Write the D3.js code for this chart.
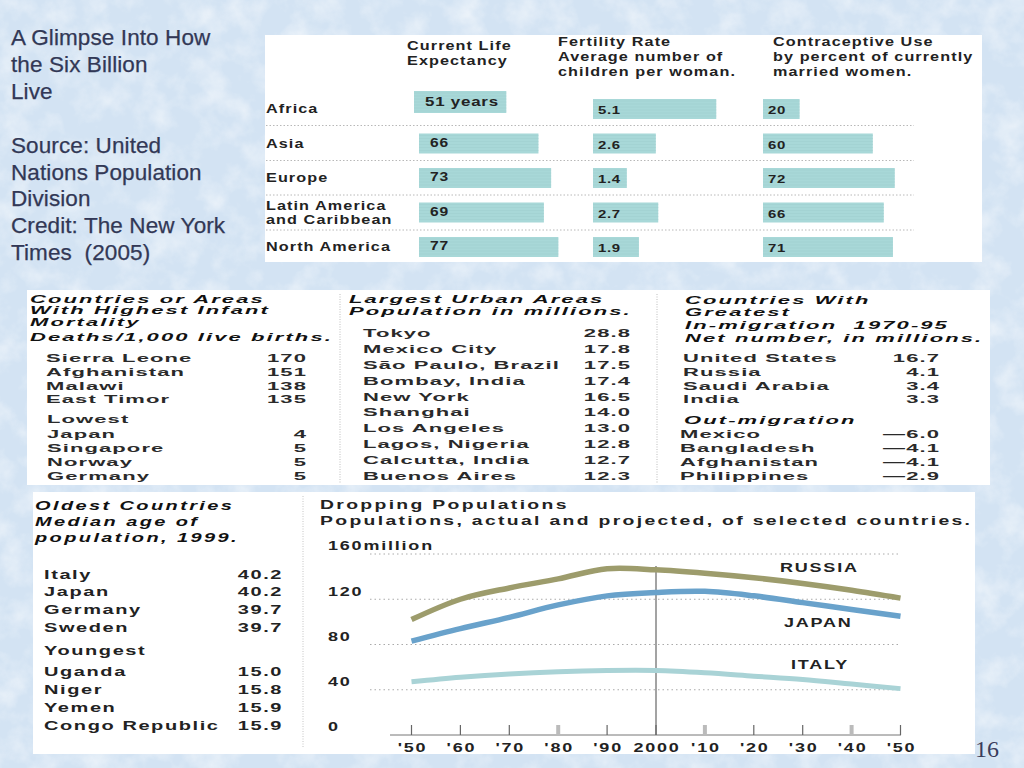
<!DOCTYPE html>
<html><head><meta charset="utf-8">
<script src="https://cdn.jsdelivr.net/npm/d3@7"></script>
<style>
html,body{margin:0;padding:0;background:#d6e6f5;}
svg{display:block;}
text{font-family:"Liberation Sans",Arial,sans-serif;}
</style></head>
<body>
<svg id="slide" width="1024" height="768"></svg>
<script>
// ---------------- DATA ----------------
const slideTitleLines = ["A Glimpse Into How","the Six Billion","Live","","Source: United","Nations Population","Division","Credit: The New York","Times  (2005)"];
const pageNumber = "16";

const regionLabels = [["Africa"],["Asia"],["Europe"],["Latin America","and Caribbean"],["North America"]];
const lifeHeader = ["Current Life","Expectancy"];
const fertilityHeader = ["Fertility Rate","Average number of","children per woman."];
const contraceptiveHeader = ["Contraceptive Use","by percent of currently","married women."];
const lifeExpectancy = [51,66,73,69,77];
const fertilityRate = [5.1,2.6,1.4,2.7,1.9];
const contraceptiveUse = [20,60,72,66,71];

const mortalityTitle = ["Countries or Areas","With Highest Infant","Mortality","Deaths/1,000 live births."];
const mortalityHighest = ["Sierra Leone","Afghanistan","Malawi","East Timor"];
const mortalityHighestValues = [170,151,138,135];
const mortalityLowestTitle = "Lowest";
const mortalityLowest = ["Japan","Singapore","Norway","Germany"];
const mortalityLowestValues = [4,5,5,5];

const urbanTitle = ["Largest Urban Areas","Population in millions."];
const urbanAreas = ["Tokyo","Mexico City","São Paulo, Brazil","Bombay, India","New York","Shanghai","Los Angeles","Lagos, Nigeria","Calcutta, India","Buenos Aires"];
const urbanPopulation = [28.8,17.8,17.5,17.4,16.5,14.0,13.0,12.8,12.7,12.3];

const migrationTitle = ["Countries With","Greatest","In-migration  1970-95","Net number, in millions."];
const inMigration = ["United States","Russia","Saudi Arabia","India"];
const inMigrationValues = [16.7,4.1,3.4,3.3];
const outMigrationTitle = "Out-migration";
const outMigration = ["Mexico","Bangladesh","Afghanistan","Philippines"];
const outMigrationValues = [-6.0,-4.1,-4.1,-2.9];

const ageTitle = ["Oldest Countries","Median age of","population, 1999."];
const oldestCountries = ["Italy","Japan","Germany","Sweden"];
const oldestAges = [40.2,40.2,39.7,39.7];
const youngestTitle = "Youngest";
const youngestCountries = ["Uganda","Niger","Yemen","Congo Republic"];
const youngestAges = [15.0,15.8,15.9,15.9];

const chartTitle = ["Dropping Populations","Populations, actual and projected, of selected countries."];
const years = [1950,1960,1970,1980,1990,2000,2010,2020,2030,2040,2050];
const yearLabels = ["'50","'60","'70","'80","'90","2000","'10","'20","'30","'40","'50"];
const russia = [102,120,130,138,147,146,143,139,134,128,121];
const japan  = [83,94,104,115,123,126,127,123,117,111,105];
const italy  = [47,51,54,56,57,57,55,52,49,45,41];
const popTicks = [0,40,80,120,160];
const seriesNames = ["RUSSIA","JAPAN","ITALY"];

// ---------------- HELPERS ----------------
const svg = d3.select("#slide");
function wtext(g, str, x, y, o) {
  o = o || {};
  return g.append("text")
    .attr("transform", `translate(${x},${y}) scale(${o.sx||1},1)`)
    .attr("dy", "0.36em")
    .attr("text-anchor", o.anchor || "start")
    .style("font-size", (o.size||12) + "px")
    .style("font-weight", o.weight || "bold")
    .style("font-style", o.italic ? "italic" : "normal")
    .style("letter-spacing", (o.ls||0) + "px")
    .style("white-space", "pre")
    .attr("fill", o.fill || "#222")
    .text(str);
}

// ---------------- BACKGROUND ----------------
const defs = svg.append("defs");
const flt = defs.append("filter").attr("id","mottle").attr("x",0).attr("y",0).attr("width","100%").attr("height","100%");
flt.append("feTurbulence").attr("type","fractalNoise").attr("baseFrequency","0.035").attr("numOctaves",4).attr("seed",7);
flt.append("feColorMatrix").attr("type","matrix").attr("values","0 0 0 0 1  0 0 0 0 1  0 0 0 0 1  1.8 0 0 0 -0.75");
svg.append("rect").attr("width",1024).attr("height",768).attr("fill","#d3e3f3");
svg.append("rect").attr("width",1024).attr("height",768).attr("filter","url(#mottle)").attr("opacity",0.6);

// ---------------- SLIDE TITLE ----------------
const tlG = svg.append("g");
slideTitleLines.forEach((s,i)=>{
  tlG.append("text").attr("x",11).attr("y",45 + i*26.9)
    .style("font-size","22.5px").style("white-space","pre").style("letter-spacing","0.1px")
    .attr("fill","#323856").attr("stroke","#323856").attr("stroke-width",0.25).text(s);
});
svg.append("text").attr("x",975).attr("y",757)
  .style("font-family","'Liberation Serif','DejaVu Serif',serif").style("font-size","24px")
  .attr("fill","#3a3d5c").text(pageNumber);

// ---------------- TOP PANEL ----------------
const topG = svg.append("g");
topG.append("rect").attr("x",265).attr("y",35).attr("width",717).attr("height",227).attr("fill","#fff");
const rowY = d3.scalePoint().domain(d3.range(regionLabels.length)).range([109,247]);
const lifeX = d3.scaleLinear().domain([0,100]).range([0,181]);
const fertX = d3.scaleLinear().domain([0,6]).range([0,145]);
const contraX = d3.scaleLinear().domain([0,100]).range([0,183]);
const topStyle = {sx:1.35, ls:0.8, size:12};
lifeHeader.forEach((s,i)=>wtext(topG,s,407,46+i*14.7,topStyle));
fertilityHeader.forEach((s,i)=>wtext(topG,s,558,42+i*14.7,topStyle));
contraceptiveHeader.forEach((s,i)=>wtext(topG,s,773,42+i*14.7,topStyle));
[125.5,160.5,195,230].forEach(yy=>{
  topG.append("line").attr("x1",266).attr("x2",914).attr("y1",yy).attr("y2",yy)
    .attr("stroke","#b8b8b8").attr("stroke-width",1).attr("stroke-dasharray","1.5,2");
});
const barFill = "#a8d8d8";
function bar(bx, by, bw, bh) {
  topG.append("rect").attr("x",bx).attr("y",by).attr("width",bw).attr("height",bh).attr("fill",barFill);
  for (let k=2;k<bh;k+=3) topG.append("line").attr("x1",bx).attr("x2",bx+bw).attr("y1",by+k).attr("y2",by+k)
    .attr("stroke","#9fd0d0").attr("stroke-width",0.6);
}
regionLabels.forEach((lines,i)=>{
  const cy = rowY(i);
  lines.forEach((s,j)=>wtext(topG,s,266,cy + (j - (lines.length-1)/2)*13.5,topStyle));
  const lx = i===0 ? 414 : 419, ly = i===0 ? cy-7 : cy, lh = i===0 ? 22 : 20;
  bar(lx, ly-lh/2, lifeX(lifeExpectancy[i]), lh);
  wtext(topG, i===0 ? lifeExpectancy[i]+" years" : String(lifeExpectancy[i]), lx+11, ly-1, {sx:1.3, ls:0.6, size: i===0?13:12});
  bar(593, cy-10, fertX(fertilityRate[i]), 20);
  wtext(topG, d3.format(".1f")(fertilityRate[i]), 598, cy+1, {sx:1.3, ls:0.5, size:11.5});
  bar(763, cy-10, contraX(contraceptiveUse[i]), 20);
  wtext(topG, String(contraceptiveUse[i]), 768, cy+1, {sx:1.3, ls:0.5, size:11.5});
});

// ---------------- MIDDLE PANEL ----------------
const mid = svg.append("g");
mid.append("rect").attr("x",27).attr("y",290).attr("width",963).attr("height",195).attr("fill","#fff");
[340,657].forEach(xx=>mid.append("line").attr("x1",xx).attr("x2",xx).attr("y1",294).attr("y2",484)
  .attr("stroke","#bdbdbd").attr("stroke-dasharray","1,1.5"));
const rowS = {sx:2.0, ls:0.55, size:11, fill:"#2a2a2a"};
const titleS = {sx:2.0, ls:1.05, size:11, italic:true, fill:"#111"};
const rowR = Object.assign({},rowS,{anchor:"end"});
[299,310.5,322,337].forEach((yy,i)=>wtext(mid,mortalityTitle[i],30,yy,titleS));
mortalityHighest.forEach((s,i)=>{const yy=358+i*13.8; wtext(mid,s,46,yy,rowS); wtext(mid,String(mortalityHighestValues[i]),307,yy,rowR);});
wtext(mid,mortalityLowestTitle,47,419,rowS);
mortalityLowest.forEach((s,i)=>{const yy=434+i*14; wtext(mid,s,47,yy,rowS); wtext(mid,String(mortalityLowestValues[i]),307,yy,rowR);});
urbanTitle.forEach((s,i)=>wtext(mid,s,349,299+i*12.5,titleS));
urbanAreas.forEach((s,i)=>{const yy=333+i*15.9; wtext(mid,s,363,yy,rowS); wtext(mid,d3.format(".1f")(urbanPopulation[i]),631,yy,rowR);});
[300,312,325,338].forEach((yy,i)=>wtext(mid,migrationTitle[i],685,yy,titleS));
const fmtMig = v => (v<0?"\u2014":"") + d3.format(".1f")(Math.abs(v));
inMigration.forEach((s,i)=>{const yy=358+i*13.8; wtext(mid,s,683,yy,rowS); wtext(mid,fmtMig(inMigrationValues[i]),940,yy,rowR);});
wtext(mid,outMigrationTitle,684,420,titleS);
outMigration.forEach((s,i)=>{const yy=434+i*13.9; wtext(mid,s,680,yy,rowS); wtext(mid,fmtMig(outMigrationValues[i]),940,yy,rowR);});

// ---------------- BOTTOM PANEL ----------------
const bot = svg.append("g");
bot.append("rect").attr("x",33).attr("y",492).attr("width",942).attr("height",262).attr("fill","#fff");
bot.append("line").attr("x1",303).attr("x2",303).attr("y1",496).attr("y2",748)
  .attr("stroke","#c4c4c4").attr("stroke-dasharray","1,1.5");
const ageRow = {sx:1.6, ls:1.0, size:12.5, fill:"#222"};
const ageRowR = Object.assign({},ageRow,{anchor:"end"});
const ageTitleS = {sx:1.6, ls:1.5, size:12.5, italic:true, fill:"#111"};
ageTitle.forEach((s,i)=>wtext(bot,s,35,505+i*16,ageTitleS));
oldestCountries.forEach((s,i)=>{const yy=574+i*17.7; wtext(bot,s,44,yy,ageRow); wtext(bot,d3.format(".1f")(oldestAges[i]),283,yy,ageRowR);});
wtext(bot,youngestTitle,44,650,ageRow);
youngestCountries.forEach((s,i)=>{const yy=671+i*18; wtext(bot,s,44,yy,ageRow); wtext(bot,d3.format(".1f")(youngestAges[i]),283,yy,ageRowR);});

const chS = {sx:1.55, ls:1.5, size:12.5, fill:"#222"};
wtext(bot,chartTitle[0],320,504,chS);
wtext(bot,chartTitle[1],320,520,chS);
const xS = d3.scaleLinear().domain([1950,2050]).range([411.5,900.5]);
const yS = d3.scaleLinear().domain([0,160]).range([735,554]);
const axS = {sx:1.5, ls:1.2, size:12, fill:"#222"};
popTicks.forEach(v=>{
  wtext(bot, v===160 ? v+"million" : String(v), 328, yS(v)-8, axS);
  if (v>0) bot.append("line").attr("x1",370).attr("x2",898).attr("y1",yS(v)).attr("y2",yS(v))
    .attr("stroke","#aaa").attr("stroke-width",1).attr("stroke-dasharray","1.5,3");
});
bot.append("line").attr("x1",390).attr("x2",901).attr("y1",735).attr("y2",735).attr("stroke","#777").attr("stroke-width",1);
years.forEach((yr,i)=>{
  const grey = (yr===1980||yr===2010||yr===2040);
  bot.append("line").attr("x1",xS(yr)).attr("x2",xS(yr)).attr("y1",725).attr("y2",735)
    .attr("stroke", grey ? "#bbb" : "#666").attr("stroke-width", grey ? 4 : 1.2);
  wtext(bot, yearLabels[i], xS(yr)+1, 748, Object.assign({},axS,{anchor:"middle"}));
});
bot.append("line").attr("x1",xS(2000)).attr("x2",xS(2000)).attr("y1",566).attr("y2",735).attr("stroke","#666").attr("stroke-width",1.2);
const line = d3.line().x((d,i)=>xS(years[i])).y(d=>yS(d)).curve(d3.curveCatmullRom.alpha(0.5));
const seriesData = [russia, japan, italy];
const seriesColors = ["#9d9c6c","#69a2cb","#a9d3d6"];
const seriesWidths = [5.5,5.5,5];
seriesData.forEach((s,i)=>{
  bot.append("path").attr("d",line(s)).attr("fill","none").attr("stroke",seriesColors[i])
    .attr("stroke-width",seriesWidths[i]).attr("stroke-linejoin","round");
});
const labelPos = [[780,568],[784,623],[791,665]];
seriesNames.forEach((s,i)=>wtext(bot,s,labelPos[i][0],labelPos[i][1],axS));
</script>
</body></html>
